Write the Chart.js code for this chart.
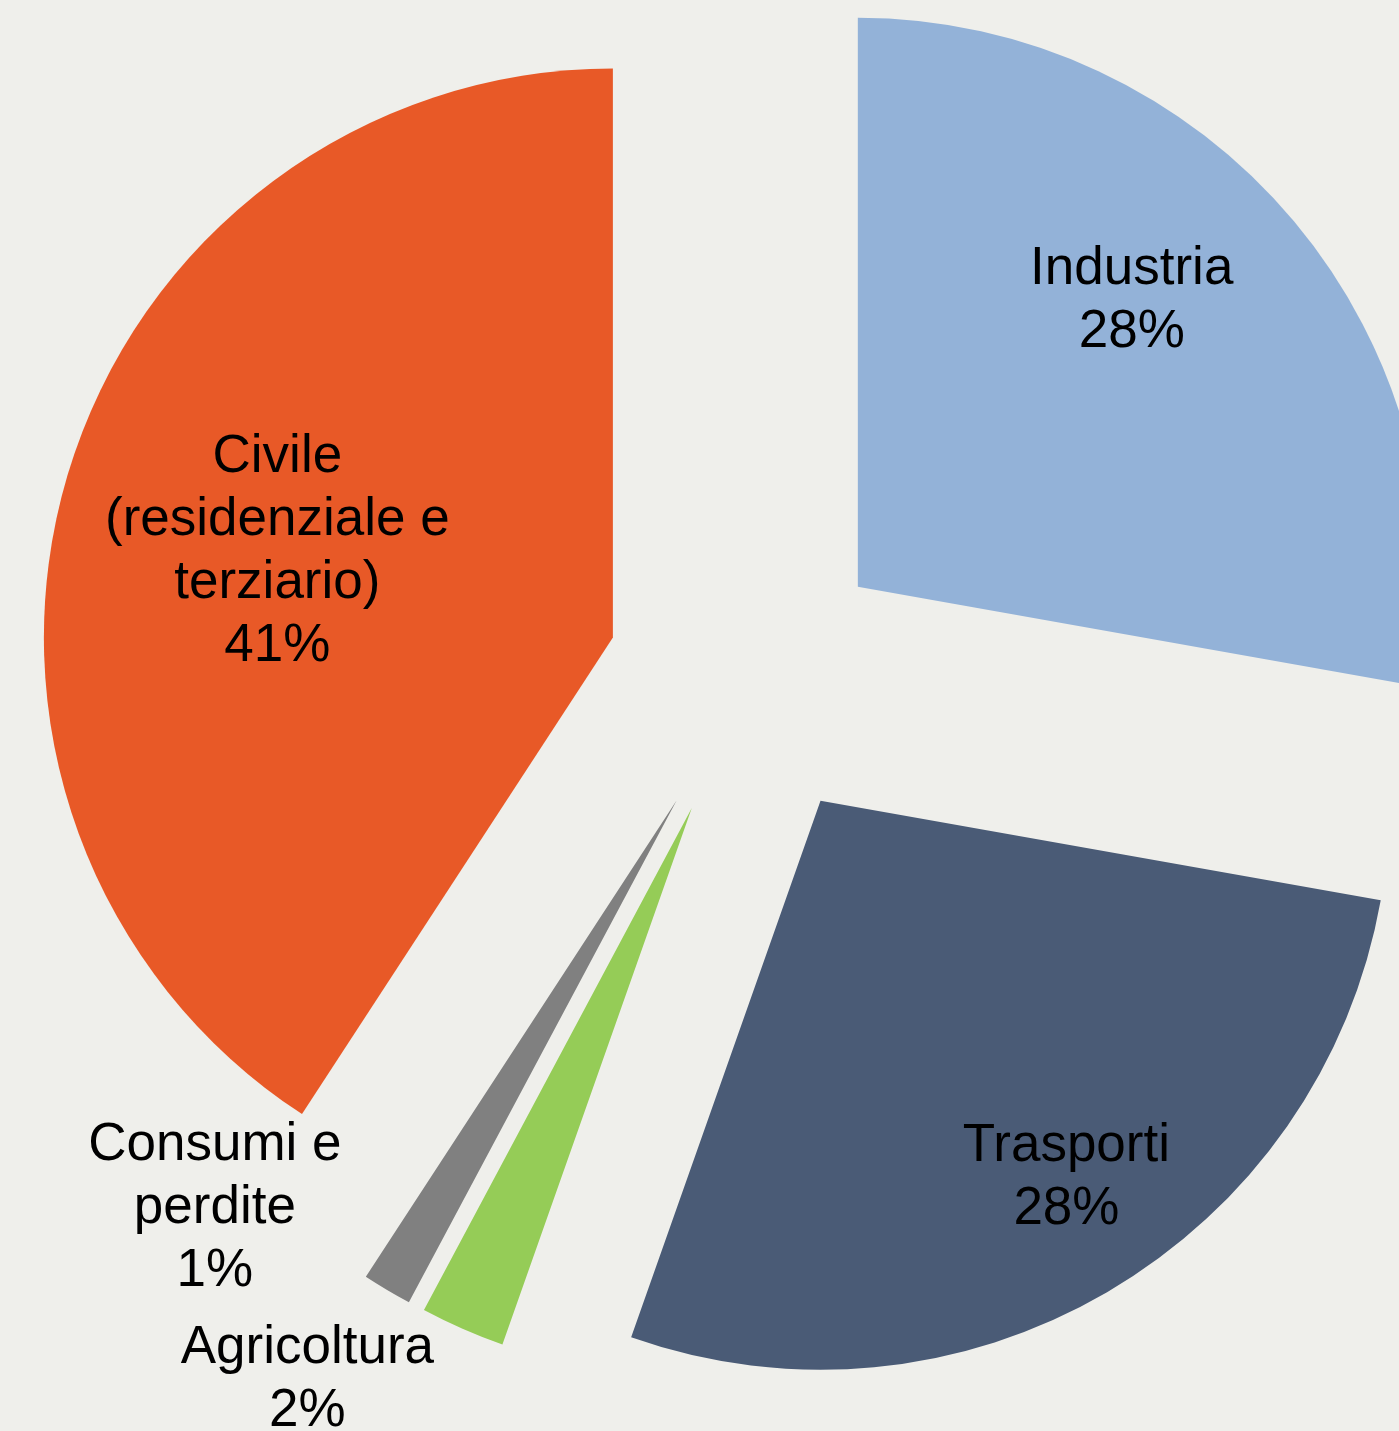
<!DOCTYPE html>
<html>
<head>
<meta charset="utf-8">
<script src="https://cdn.jsdelivr.net/npm/chart.js@4/dist/chart.umd.min.js"></script>
<style>
  html, body { margin: 0; padding: 0; background: #EFEFEB; }
  #wrap { width: 1399px; height: 1431px; position: relative; }
</style>
</head>
<body>
<div id="wrap"><canvas id="pieChart" width="1399" height="1431"></canvas></div>
<script>
// Consumi finali per settore (quote %)
const sectors = ['Industria', 'Trasporti', 'Agricoltura', 'Consumi e perdite', 'Civile (residenziale e terziario)'];
const shares = [27.8, 27.6, 2.4, 1.4, 40.8];
const labelLines = [
  ['Industria'],
  ['Trasporti'],
  ['Agricoltura'],
  ['Consumi e', 'perdite'],
  ['Civile', '(residenziale e', 'terziario)']
];
const sliceColors = ['#93B2D8', '#4A5B76', '#95CC57', '#808080', '#E85927'];

// label placement: distance as fraction of radius, turn in degrees from slice middle
const labelDist = [0.944, 1.04, 1.458, 1.323, 0.858];
const labelTurn = [-4.6, -2.2, 8.4, 14.6, -1.6];

const LIFT = 142;      // explode distance of every slice
const RADIUS = 569;

const total = shares.reduce((a, b) => a + b, 0);

// draw each arc moved out along its middle angle
const explode = {
  id: 'explode',
  beforeDatasetDraw(chart, args) {
    const ctx = chart.ctx;
    args.meta.data.forEach(arc => {
      const mid = (arc.startAngle + arc.endAngle) / 2;
      ctx.save();
      ctx.translate(Math.cos(mid) * LIFT, Math.sin(mid) * LIFT);
      arc.draw(ctx);
      ctx.restore();
    });
    return false;
  }
};

const sliceLabels = {
  id: 'sliceLabels',
  afterDatasetsDraw(chart) {
    const ctx = chart.ctx;
    const meta = chart.getDatasetMeta(0);
    ctx.save();
    ctx.font = '53px "Liberation Sans", Arial, sans-serif';
    ctx.fillStyle = '#000';
    ctx.textAlign = 'center';
    ctx.textBaseline = 'middle';
    meta.data.forEach((arc, i) => {
      const a = (arc.startAngle + arc.endAngle) / 2 + labelTurn[i] * Math.PI / 180;
      const d = labelDist[i] * arc.outerRadius;
      const x = arc.x + Math.cos(a) * d;
      const y = arc.y + Math.sin(a) * d;
      const lines = labelLines[i].concat([Math.round(shares[i] / total * 100) + '%']);
      const lh = 63;
      const top = y - (lines.length - 1) * lh / 2;
      lines.forEach((t, k) => ctx.fillText(t, x, top + k * lh));
    });
    ctx.restore();
  }
};

new Chart(document.getElementById('pieChart'), {
  type: 'pie',
  data: {
    labels: sectors,
    datasets: [{
      data: shares,
      backgroundColor: sliceColors,
      borderWidth: 0,
      clip: false
    }]
  },
  options: {
    responsive: false,
    animation: false,
    radius: RADIUS,
    layout: { padding: { left: 99, right: 0, top: 0, bottom: 75 } },
    plugins: {
      legend: { display: false },
      tooltip: { enabled: false },
      title: { display: false }
    }
  },
  plugins: [explode, sliceLabels]
});
</script>
</body>
</html>
